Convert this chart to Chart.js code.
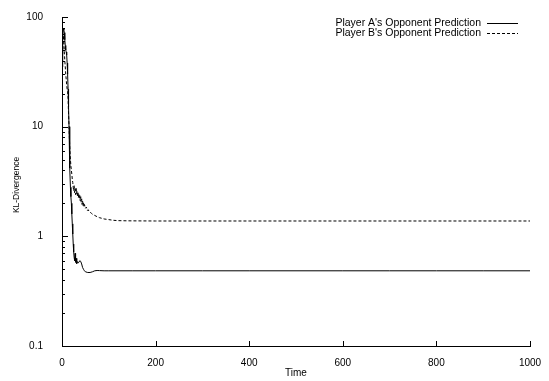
<!DOCTYPE html>
<html><head><meta charset="utf-8">
<script src="https://cdn.jsdelivr.net/npm/chart.js@4"></script>
<style>html,body{margin:0;padding:0;background:#fff}#wrap{width:549px;height:381px;position:relative}</style>
</head><body><div id="wrap"><canvas id="c" width="549" height="381"></canvas></div>
<script>
// ---- data ----
const timeA = [0,1,2,3,4,5,6,7,8,9,10,11,12,13,14,15,16,17,18,19,20,21,22,23,24,25,26,27,28,29,30,31,32,34,36,38,40,42,44,46,48,50,55,60,65,70,75,80,90,100,150,200,300,400,500,600,700,800,900,1000];
const klA   = [35,45,65,78,76,72,62,55,50,48,45,38,30,22,15,10,6.5,4.2,2.8,2.3,2.0,1.6,1.3,1.05,0.85,0.72,0.64,0.6,0.7,0.58,0.63,0.56,0.6,0.57,0.58,0.6,0.59,0.56,0.52,0.5,0.485,0.475,0.468,0.468,0.475,0.485,0.488,0.487,0.485,0.485,0.485,0.485,0.485,0.485,0.485,0.485,0.485,0.485,0.485,0.485];
const timeB = [0,1,2,3,4,5,6,7,8,9,10,11,12,13,14,15,16,17,18,19,20,21,22,23,24,25,26,27,28,29,30,31,32,33,34,35,36,37,38,39,40,41,42,43,44,45,46,47,48,50,52,54,56,58,60,63,66,70,75,80,85,90,100,110,120,140,200,300,400,500,600,700,800,900,1000];
const klB   = [30,40,55,68,60,48,40,35,30,27,24,22,21,18,13,10,7.5,6,5,4.4,4.0,3.7,3.3,3.1,2.8,2.6,2.9,2.5,2.7,2.4,2.8,2.45,2.6,2.3,2.55,2.25,2.45,2.2,2.35,2.1,2.3,2.05,2.2,1.95,2.1,1.9,2.05,1.85,1.95,1.8,1.85,1.72,1.75,1.68,1.66,1.62,1.58,1.55,1.51,1.48,1.46,1.44,1.42,1.40,1.39,1.385,1.38,1.38,1.38,1.38,1.38,1.38,1.38,1.38,1.38];
const seriesNames = ["Player A's Opponent Prediction", "Player B's Opponent Prediction"];
const xTicks = [0,200,400,600,800,1000];
const yTicks = [0.1,1,10,100];
const xTitle = "Time";
const yTitle = "KL-Divergence";

const FONT = '"Liberation Sans", Arial, Helvetica, sans-serif';

const toPts = (t, v) => t.map((x, i) => ({x: x, y: v[i]}));

const inwardTicks = {
  id: 'inwardTicks',
  afterDatasetsDraw(chart) {
    const ctx = chart.ctx, xs = chart.scales.x, ys = chart.scales.y;
    const left = chart.chartArea.left, bottom = chart.chartArea.bottom;
    ctx.save();
    ctx.strokeStyle = '#000';
    ctx.lineWidth = 1;
    ctx.beginPath();
    yTicks.forEach((v, i) => {
      const py = Math.round(ys.getPixelForValue(v)) + 0.5;
      ctx.moveTo(left, py); ctx.lineTo(left + 6, py);
      if (i < yTicks.length - 1) {
        for (let m = 2; m <= 9; m++) {
          const q = Math.round(ys.getPixelForValue(v * m)) + 0.5;
          ctx.moveTo(left, q); ctx.lineTo(left + 3, q);
        }
      }
    });
    xTicks.forEach(v => {
      const px = Math.round(xs.getPixelForValue(v)) + 0.5;
      ctx.moveTo(px, bottom); ctx.lineTo(px, bottom - 5);
    });
    ctx.stroke();
    ctx.restore();
  },
  afterDraw(chart) {
    const ctx = chart.ctx;
    ctx.save();
    ctx.fillStyle = '#000';
    ctx.font = '8.5px ' + FONT;
    ctx.textAlign = 'center';
    ctx.textBaseline = 'middle';
    ctx.translate(17, 185);
    ctx.rotate(-Math.PI / 2);
    ctx.fillText(yTitle, 0, 0);
    ctx.restore();
    ctx.save();
    ctx.font = '10.5px ' + FONT;
    ctx.textAlign = 'right';
    ctx.textBaseline = 'middle';
    ctx.fillStyle = '#000';
    chart.data.datasets.forEach((ds, i) => {
      const y = 23 + i * 10;
      ctx.fillText(ds.label, 481, y);
      ctx.beginPath();
      ctx.strokeStyle = ds.borderColor;
      ctx.lineWidth = ds.borderWidth;
      ctx.setLineDash(ds.borderDash || []);
      ctx.moveTo(487, Math.round(y) + 0.5);
      ctx.lineTo(518, Math.round(y) + 0.5);
      ctx.stroke();
    });
    ctx.restore();
  }
};

new Chart(document.getElementById('c'), {
  type: 'line',
  data: {
    datasets: [
      {label: seriesNames[0], data: toPts(timeA, klA), borderColor: '#000', borderWidth: 1, pointRadius: 0, fill: false, tension: 0},
      {label: seriesNames[1], data: toPts(timeB, klB), borderColor: '#000', borderWidth: 1, borderDash: [3, 2], pointRadius: 0, fill: false, tension: 0}
    ]
  },
  options: {
    responsive: false,
    animation: false,
    devicePixelRatio: 1,
    layout: {padding: {left: 0, right: 19, top: 12, bottom: 0}},
    plugins: {legend: {display: false}, tooltip: {enabled: false}},
    scales: {
      x: {
        type: 'linear', min: 0, max: 1000,
        afterBuildTicks: s => { s.ticks = xTicks.map(v => ({value: v})); },
        afterFit: s => { s.height = 35; },
        grid: {display: false},
        border: {display: true, color: '#000', width: 1},
        ticks: {color: '#000', font: {family: FONT, size: 10}, padding: 3, maxRotation: 0, callback: v => String(v)},
        title: {display: true, text: xTitle, color: '#000', font: {family: FONT, size: 10}, padding: {top: 0, bottom: 2}}
      },
      y: {
        type: 'logarithmic', min: 0.1, max: 100,
        afterBuildTicks: s => { s.ticks = yTicks.map(v => ({value: v})); },
        afterFit: s => { s.width = 62; },
        grid: {display: false},
        border: {display: true, color: '#000', width: 1},
        ticks: {color: '#000', font: {family: FONT, size: 10}, padding: 11, callback: v => String(v)}
      }
    }
  },
  plugins: [inwardTicks]
});
</script>
</body></html>
